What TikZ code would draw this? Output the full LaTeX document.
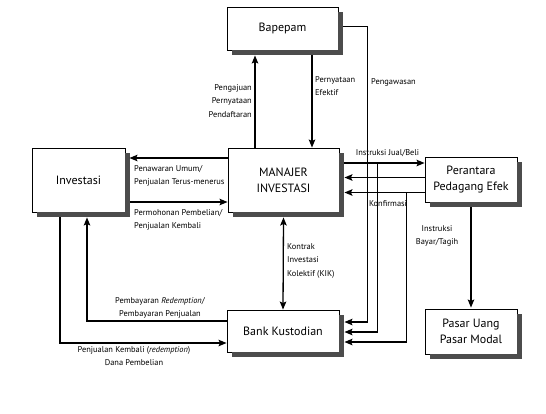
\documentclass[tikz,border=0pt]{standalone}
\usepackage{fontspec}
\setmainfont{PT Sans}
\usetikzlibrary{calc,arrows.meta}
\definecolor{shadowgray}{gray}{0.3}
\tikzset{
  box/.style={draw, fill=white, line width=0.9pt, inner sep=0pt, align=center,
    font=\fontsize{12}{16}\selectfont},
  arr/.style={line width=1.3pt, -{Stealth[length=8pt,width=6.5pt,inset=1.5pt]}},
  darr/.style={line width=1.3pt, {Stealth[length=8pt,width=6.5pt,inset=1.5pt]}-{Stealth[length=8pt,width=6.5pt,inset=1.5pt]}},
  lbl/.style={inner sep=0pt, font=\fontsize{8.4}{13.5}\selectfont}}
\begin{document}
\begin{tikzpicture}[x=1pt,y=-1pt]
\fill[white] (0,0) rectangle (546,413);
\useasboundingbox (0,0) rectangle (546,413);

\node[box, minimum width=111pt, minimum height=43pt] (bap) at (282.5,28.5) {Bapepam};
\node[box, minimum width=111pt, minimum height=64pt] (mi) at (283.5,180) {MANAJER\\INVESTASI};
\node[box, minimum width=93pt, minimum height=64pt] (inv) at (78.5,180) {Investasi};
\node[box, minimum width=92pt, minimum height=45pt] (per) at (471,179.5) {Perantara\\Pedagang Efek};
\node[box, minimum width=112pt, minimum height=42pt] (bk) at (283,331) {Bank Kustodian};
\node[box, minimum width=92pt, minimum height=45pt] (pas) at (471,331.5) {Pasar Uang\\Pasar Modal};

% shadows (right and bottom strips)
\foreach \nn in {bap,mi,inv,per,bk,pas}{
  \fill[shadowgray] ($(\nn.north east)+(0,5)$) rectangle ($(\nn.south east)+(5,5)$);
  \fill[shadowgray] ($(\nn.south west)+(5,0)$) rectangle ($(\nn.south east)+(5,5)$);
}

% Bapepam <-> MI
\draw[arr] ($(mi.north)+(-28.5,0)$) -- ($(bap.south)+(-27.5,5)$);
\draw[arr] ($(bap.south)+(29.5,5)$) -- ($(mi.north)+(28.5,0)$);
% Pengawasan
\draw[arr] ($(bap.east)+(5,-2)$) -| ($(mi.east)+(28,60)$) |- ($(bk.east)+(5,-9)$);
% MI <-> Perantara
\draw[arr] ($(mi.east)+(5,-17)$) -- ($(mi.east-|per.west)+(0,-17)$);
\draw[arr] ($(per.west)+(0,-2)$) -- ($(mi.east|-per.west)+(5,-2)$);
\draw[arr] ($(per.west)+(0,13)$) -- ($(mi.east|-per.west)+(5,13)$);
\coordinate (j1) at ($(mi.east)+(38,-17)$);
\coordinate (j2) at ($(mi.east|-per.west)+(67,13)$);
\draw[arr] (j1) |- ($(bk.east)+(5,1)$);
\draw[arr] (j2) |- ($(bk.east)+(5,11)$);
% Investasi <-> MI
\draw[arr] ($(mi.west)+(0,-22)$) -- ($(inv.east)+(4,-22)$);
\draw[arr] ($(inv.east)+(5,22)$) -- ($(mi.west)+(0,22)$);
% Investasi <-> Bank Kustodian
\draw[arr] ($(inv.south)+(-18.5,5)$) |- ($(bk.west)+(0,12)$);
\draw[arr] ($(bk.west)+(0,-10)$) -| ($(inv.south)+(8.5,5)$);
% KIK
\draw[darr] ($(mi.south)+(0,5)$) -- (bk.north);
% Perantara -> Pasar
\draw[arr] ($(per.south)+(0,5)$) -- ($(pas.north)+(0,-1)$);

% labels
\node[lbl, anchor=north east, align=right] (l1) at (252,84) {Pengajuan\\Pernyataan\\Pendaftaran};
\node[lbl, anchor=north west, align=left] (l2) at (315,76) {Pernyataan\\Efektif};
\node[lbl, anchor=west] (l3) at (371,82) {Pengawasan};
\node[lbl, anchor=north west, align=left] (l4) at (134,165) {Penawaran Umum/\\Penjualan Terus-menerus};
\node[lbl, anchor=north west, align=left] (l5) at (134,209) {Permohonan Pembelian/\\Penjualan Kembali};
\node[lbl] (l6) at (387.5,153) {Instruksi Jual/Beli};
\node[lbl] (l7) at (388,204) {Konfirmasi};
\node[lbl, anchor=north, align=center] (l8) at (437,225) {Instruksi\\Bayar/Tagih};
\node[lbl, anchor=north west, align=left] (l9) at (287,243) {Kontrak\\Investasi\\Kolektif (KIK)};
\node[lbl, anchor=north, align=center] (l10) at (160,297) {Pembayaran \textit{Redemption}/\\Pembayaran Penjualan};
\node[lbl, anchor=north, align=center] (l11) at (134,346) {Penjualan Kembali (\textit{redemption})\\Dana Pembelian};
\end{tikzpicture}
\end{document}
